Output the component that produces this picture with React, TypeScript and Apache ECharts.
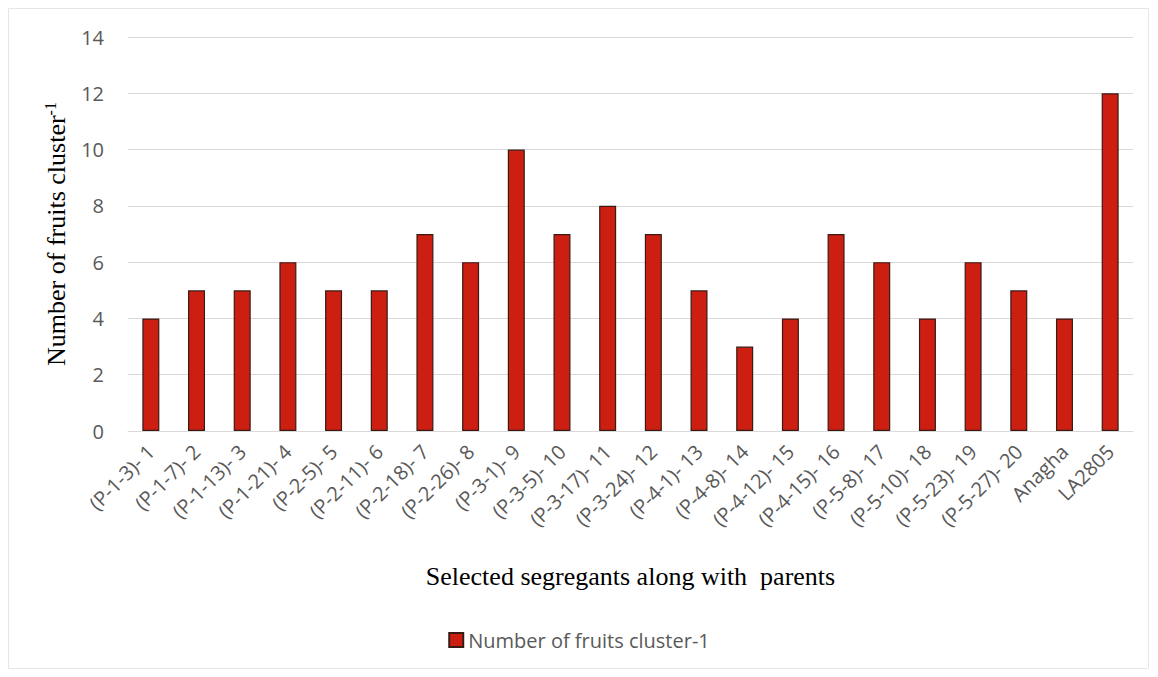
import React, { useEffect, useRef } from "react";
import * as echarts from "echarts";

const categories = [
  "(P-1-3)- 1", "(P-1-7)- 2", "(P-1-13)- 3", "(P-1-21)- 4", "(P-2-5)- 5",
  "(P-2-11)- 6", "(P-2-18)- 7", "(P-2-26)- 8", "(P-3-1)- 9", "(P-3-5)- 10",
  "(P-3-17)- 11", "(P-3-24)- 12", "(P-4-1)- 13", "(P-4-8)- 14", "(P-4-12)- 15",
  "(P-4-15)- 16", "(P-5-8)- 17", "(P-5-10)- 18", "(P-5-23)- 19", "(P-5-27)- 20",
  "Anagha", "LA2805",
];
const fruitsPerCluster = [4, 5, 5, 6, 5, 5, 7, 6, 10, 7, 8, 7, 5, 3, 4, 7, 6, 4, 6, 5, 4, 12];
const seriesName = "Number of fruits cluster-1";

export default function App() {
  const ref = useRef<HTMLDivElement>(null);
  useEffect(() => {
    if (!ref.current) return;
    const chart = echarts.init(ref.current, null, { renderer: "svg" });
    const sans = "'Open Sans', Lato, sans-serif";
    const serif = "'Liberation Serif', 'DejaVu Serif', serif";
    chart.setOption({
      animation: false,
      backgroundColor: "#ffffff",
      grid: { left: 128, right: 25, top: 37, bottom: 246 },
      legend: {
        bottom: 22,
        left: "center",
        itemWidth: 14,
        itemHeight: 14,
        itemGap: 4,
        textStyle: { fontFamily: sans, fontSize: 20, color: "#595959" },
        data: [{ name: seriesName, icon: "rect" }],
      },
      xAxis: {
        type: "category",
        data: categories,
        axisTick: { show: false },
        axisLine: { lineStyle: { color: "#d9d9d9", width: 1 } },
        axisLabel: {
          interval: 0,
          rotate: 45,
          margin: 17,
          fontFamily: sans,
          fontSize: 20,
          color: "#595959",
        },
        name: "Selected segregants along with  parents",
        nameLocation: "middle",
        nameGap: 132,
        nameTextStyle: { fontFamily: serif, fontSize: 26, color: "#000" },
      },
      yAxis: {
        type: "value",
        min: 0,
        max: 14,
        interval: 2,
        axisLine: { show: false },
        axisTick: { show: false },
        splitLine: { lineStyle: { color: "#d9d9d9", width: 1 } },
        axisLabel: { fontFamily: sans, fontSize: 20, color: "#595959", margin: 24 },
        name: "Number of fruits cluster{sup|-1}",
        nameLocation: "middle",
        nameRotate: 90,
        nameGap: 58,
        nameTextStyle: {
          fontFamily: serif,
          fontSize: 26,
          color: "#000",
          rich: {
            sup: {
              fontFamily: serif,
              fontSize: 16,
              color: "#000",
              verticalAlign: "top",
              padding: [0, 0, 12, 0],
            },
          },
        },
      },
      series: [
        {
          name: seriesName,
          type: "bar",
          data: fruitsPerCluster,
          barWidth: 17,
          itemStyle: { color: "#cc1f12", borderColor: "#3a1a14", borderWidth: 1.2 },
        },
      ],
      graphic: [
        {
          type: "rect",
          shape: { x: 8.5, y: 8.5, width: 1140, height: 660 },
          style: { fill: "none", stroke: "#e6e6e6", lineWidth: 1 },
          silent: true,
        },
      ],
    });
    return () => chart.dispose();
  }, []);
  return <div ref={ref} style={{ width: 1158, height: 677, position: "absolute", left: 0, top: 0 }} />;
}
